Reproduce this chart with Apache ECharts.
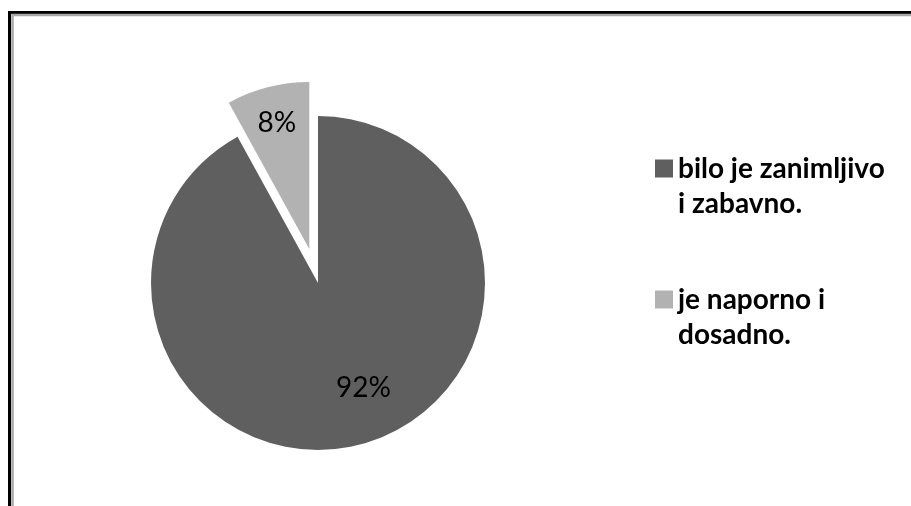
<!DOCTYPE html>
<html>
<head>
<meta charset="utf-8">
<script src="https://cdn.jsdelivr.net/npm/echarts@6/dist/echarts.min.js"></script>
<style>
html,body{margin:0;padding:0;background:#fff;}
#chart{width:911px;height:506px;}
</style>
</head>
<body>
<div id="chart"></div>
<script>
const categories = ['bilo je zanimljivo i zabavno.', 'je naporno i dosadno.'];
const legendLines = [['bilo je zanimljivo', 'i zabavno.'], ['je naporno i', 'dosadno.']];
const values = [92, 8];
const percentLabels = ['92%', '8%'];
const colors = ['#5f5f5f', '#b2b2b2'];

const chart = echarts.init(document.getElementById('chart'), null, {renderer: 'canvas'});
const labelOffsets = [[24, 21], [-11, -42]];

chart.setOption({
  animation: false,
  backgroundColor: '#ffffff',
  graphic: [
    {type: 'rect', shape: {x: 9.5, y: 12.5, width: 1000, height: 1000},
     style: {fill: null, stroke: '#000', lineWidth: 3}, silent: true},
    {type: 'rect', shape: {x: 12.5, y: 15, width: 1000, height: 1000},
     style: {fill: null, stroke: '#a8a8a8', lineWidth: 2.5}, silent: true}
  ],
  legend: {
    orient: 'vertical',
    left: 650,
    top: 111,
    itemWidth: 18,
    itemHeight: 18,
    itemGap: 26,
    icon: 'rect',
    selectedMode: false,
    data: categories,
    formatter: function (name) {
      const l = legendLines[categories.indexOf(name)];
      return ' \n' + l[0] + '\n' + l[1];
    },
    textStyle: {
      fontFamily: 'Lato',
      fontWeight: 'bold',
      fontSize: 28,
      color: '#000',
      lineHeight: 35
    }
  },
  series: [{
    type: 'pie',
    center: [318, 283],
    radius: 167,
    startAngle: 90,
    clockwise: true,
    selectedMode: 'single',
    selectedOffset: 35,
    avoidLabelOverlap: false,
    emphasis: {disabled: true},
    itemStyle: {borderWidth: 0},
    label: {
      show: true,
      position: 'inside',
      fontFamily: 'Lato',
      fontSize: 28,
      color: '#000'
    },
    labelLine: {show: false},
    data: categories.map(function (c, i) {
      return {
        name: c,
        value: values[i],
        selected: i === 1,
        itemStyle: {color: colors[i]},
        label: {formatter: percentLabels[i], offset: labelOffsets[i]},
        select: {label: {offset: labelOffsets[i]}}
      };
    })
  }]
});
</script>
</body>
</html>
